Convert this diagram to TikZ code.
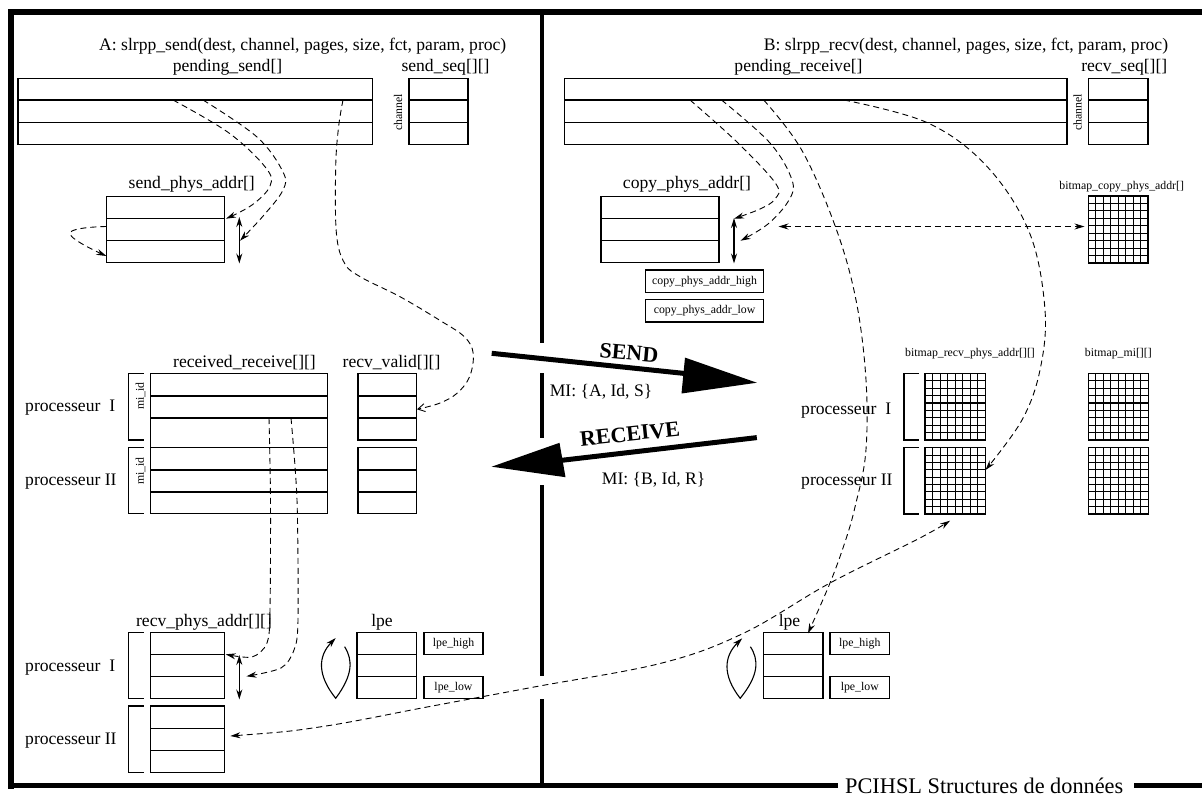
\documentclass[tikz,border=0pt]{standalone}
\usepackage{fontspec}
\setmainfont{Liberation Serif}
\usetikzlibrary{arrows.meta}
\newcommand\fmain{\fontsize{17.6pt}{20pt}\selectfont}
\newcommand\fsmall{\fontsize{11.8pt}{14pt}\selectfont}
\newcommand\fbig{\fontsize{22.3pt}{24pt}\selectfont}
\newcommand\fbold{\fontsize{22pt}{24pt}\selectfont\bfseries}
\newcommand\mktable[6]{%
  \node[tblbox, minimum width={#4-#2}, minimum height={#5-#3}, anchor=north west] (#1) at (#2,#3) {};
  \foreach \r in {#6} {\draw[rowline] (#2,\r) -- (#4,\r);}
}
\newcommand\mkgrid[5]{%
  \node[tblbox, minimum width={#4-#2}, minimum height={#5-#3}, anchor=north west] (#1) at (#2,#3) {};
  \foreach \i in {1,...,7} {\draw[gridline] ({#2+\i*(#4-#2)/8},#3) -- ({#2+\i*(#4-#2)/8},#5);}
  \foreach \j in {1,...,8} {\draw[gridline] (#2,{#3+\j*(#5-#3)/9}) -- (#4,{#3+\j*(#5-#3)/9});}
}
\newcommand\mkbracket[3]{% x, ytop, ybottom
  \draw[rowline] (#1+15,#2) -- (#1,#2) -- (#1,#3) -- (#1+15,#3);
}
\begin{document}
\begin{tikzpicture}[x=1pt,y=-1pt,
  tblbox/.style={draw, line width=1.1pt, inner sep=0pt, outer sep=0pt},
  rowline/.style={line width=1.1pt},
  gridline/.style={line width=1.1pt},
  lbl/.style={inner sep=0pt, font=\fmain, anchor=base},
  slbl/.style={inner sep=0pt, font=\fsmall},
  frame/.style={line width=5.5pt},
  divider/.style={line width=4.5pt},
  conn/.style={dash pattern=on 6pt off 4pt, line width=0.9pt, -{Stealth[length=10pt,width=6pt]}},
  connopen/.style={dash pattern=on 6pt off 4pt, line width=0.9pt, -{Straight Barb[length=7pt,width=8pt]}},
  conndbl/.style={dash pattern=on 6pt off 4pt, line width=0.9pt, {Stealth[length=10pt,width=6pt]}-{Stealth[length=10pt,width=6pt]}},
  dblarr/.style={line width=1.2pt, {Stealth[length=10pt,width=6pt]}-{Stealth[length=10pt,width=6pt]}},
  looparr/.style={line width=1.1pt, -{Stealth[length=10pt,width=6pt]}},
  bigshaft/.style={line width=5pt}]
\useasboundingbox (0,0) rectangle (1202,796);

% ---------- frame ----------
\draw[frame] (8,12) -- (1202,12);
\draw[frame] (11,9.3) -- (11,788.5);
\draw[frame] (8,785.5) -- (838,785.5);
\draw[frame] (1134,785.5) -- (1202,785.5);
\node[inner sep=0pt, font=\fbig, anchor=base west] (foot) at (845,793) {PCIHSL Structures de données};
\draw[divider] (542,12) -- (542,343.3);
\draw[divider] (542,373.3) -- (542,438.3);
\draw[divider] (542,485) -- (542,676);
\draw[divider] (542,699) -- (542,785.5);

% ---------- side A ----------
\node[inner sep=0pt, font=\fmain, anchor=base west] (titA) at (99,50) {A: slrpp\_send(dest, channel, pages, size, fct, param, proc)};
\node[lbl] (lps) at (227.5,71) {pending\_send[]};
\node[lbl] (lss) at (445.5,71) {send\_seq[][]};
\mktable{ps}{18}{78.3}{372.5}{144.3}{100,122.3}
\mktable{ss}{409}{78.3}{468}{144.3}{100,122.3}
\node[slbl, rotate=90] (chA) at (398,112.5) {channel};

\node[lbl] (lspa) at (191.8,188) {send\_phys\_addr[]};
\mktable{spa}{106.4}{196.3}{224.6}{262.7}{218.7,240.7}
\draw[dblarr] (239.3,217) -- (239.3,263.5);

\node[lbl] (lrr) at (244.5,367) {received\_receive[][]};
\node[lbl] (lrv) at (391.5,367) {recv\_valid[][]};
\mktable{rr}{150.7}{373.3}{327.9}{513.3}{396,418,447.7,470,492}
\mktable{rvA}{358}{373.3}{416.4}{440}{396,418}
\mktable{rvB}{358}{447.7}{416.4}{513.3}{470,492}
\mkbracket{128.6}{373.3}{440}
\mkbracket{128.6}{447.7}{513.3}
\node[slbl, rotate=90] (miA) at (140.5,396) {mi\_id};
\node[slbl, rotate=90] (miB) at (140.5,471) {mi\_id};
\node[inner sep=0pt, font=\fmain, anchor=base west] (pIa) at (25,411) {processeur\ \ I};
\node[inner sep=0pt, font=\fmain, anchor=base west] (pIIa) at (25,485.3) {processeur II};

\node[lbl] (lrpa) at (204,626) {recv\_phys\_addr[][]};
\mktable{rpaA}{150.7}{632.3}{224.6}{698.3}{654.3,676.3}
\mktable{rpaB}{150.7}{706}{224.6}{772.3}{728.3,750.3}
\mkbracket{128.6}{632.3}{698.3}
\mkbracket{128.6}{706}{772.3}
\node[inner sep=0pt, font=\fmain, anchor=base west] (pIb) at (25,671.7) {processeur\ \ I};
\node[inner sep=0pt, font=\fmain, anchor=base west] (pIIb) at (25,744) {processeur II};
\draw[dblarr] (239.3,655) -- (239.3,699.5);

\node[lbl] (llpeA) at (382,626) {lpe};
\mktable{lpeA}{357}{632.3}{416.4}{698.3}{654.3,676.3}
\node[tblbox, minimum width=59, minimum height=22, anchor=north west, font=\fsmall] (lpehA) at (424,632.3) {lpe\_high};
\node[tblbox, minimum width=59, minimum height=22, anchor=north west, font=\fsmall] (lpelA) at (424,676.3) {lpe\_low};
\draw[looparr] (344.6,646.7) .. controls (353,660) and (353,675) .. (335.7,698.3)
   .. controls (317,675) and (318,656) .. (335.7,638);

% ---------- side B ----------
\node[inner sep=0pt, font=\fmain, anchor=base west] (titB) at (763.7,50) {B: slrpp\_recv(dest, channel, pages, size, fct, param, proc)};
\node[lbl] (lpr) at (798.5,71) {pending\_receive[]};
\node[lbl] (lrs) at (1124.3,71) {recv\_seq[][]};
\mktable{pr}{564.5}{78.3}{1067}{144.3}{100,122.3}
\mktable{rs}{1088.8}{78.3}{1148}{144.3}{100,122.3}
\node[slbl, rotate=90] (chB) at (1077.6,112.5) {channel};

\node[lbl] (lcpa) at (687,188) {copy\_phys\_addr[]};
\mktable{cpa}{601}{196.3}{719}{262.7}{218.7,240.7}
\draw[dblarr] (734,218) -- (734,263.5);
\node[tblbox, minimum width=118.2, minimum height=22.7, anchor=north west, font=\fsmall] (cph) at (645.5,270) {copy\_phys\_addr\_high};
\node[tblbox, minimum width=118.2, minimum height=22.7, anchor=north west, font=\fsmall] (cpl) at (645.5,299.3) {copy\_phys\_addr\_low};

\node[slbl, anchor=base] (lbc) at (1121.7,189) {bitmap\_copy\_phys\_addr[]};
\mkgrid{bc}{1088.3}{196}{1148}{263}

\node[slbl, anchor=base] (lbr) at (970,356) {bitmap\_recv\_phys\_addr[][]};
\node[slbl, anchor=base] (lbm) at (1118.3,356) {bitmap\_mi[][]};
\mkgrid{brA}{925}{373.3}{985.5}{440}
\mkgrid{brB}{925}{447.7}{985.5}{514}
\mkgrid{bmA}{1088.3}{373.3}{1148.3}{440}
\mkgrid{bmB}{1088.3}{447.7}{1148.3}{514}
\mkbracket{904}{373.3}{440}
\mkbracket{904}{447.7}{514}
\node[inner sep=0pt, font=\fmain, anchor=base west] (pIc) at (801,414.3) {processeur\ \ I};
\node[inner sep=0pt, font=\fmain, anchor=base west] (pIIc) at (801,485.7) {processeur II};

\node[lbl] (llpeB) at (789.5,626) {lpe};
\mktable{lpeB}{763.5}{632.3}{823}{698.3}{654.3,676.3}
\node[tblbox, minimum width=59.6, minimum height=22, anchor=north west, font=\fsmall] (lpehB) at (830,632.3) {lpe\_high};
\node[tblbox, minimum width=59.6, minimum height=22, anchor=north west, font=\fsmall] (lpelB) at (830,676.3) {lpe\_low};
\draw[looparr] (750.4,646.7) .. controls (759,660) and (759,675) .. (740.2,698.3)
   .. controls (722,675) and (724,656) .. (742.2,638.3);

% ---------- SEND / RECEIVE ----------
\coordinate (sendtail) at (491.7,353.3);
\coordinate (sendbase) at (686,373.6);
\draw[bigshaft] (sendtail) -- (sendbase);
\fill (685,357.6) -- (756.8,382.7) -- (681.5,393.5) -- cycle;
\node[inner sep=0pt, font=\fbold, rotate=-5] (tsend) at (629,353) {SEND};
\node[inner sep=0pt, font=\fmain, anchor=base west] (mia) at (549.6,396.7) {MI: \{A, Id, S\}};

\coordinate (rectail) at (756.8,437.6);
\coordinate (recbase) at (560,460.5);
\draw[bigshaft] (rectail) -- (recbase);
\fill (491.7,466.7) -- (559.5,442.8) -- (565.5,477.2) -- cycle;
\node[inner sep=0pt, font=\fbold, rotate=6] (trec) at (630,434) {RECEIVE};
\node[inner sep=0pt, font=\fmain, anchor=base west] (mib) at (601.7,484) {MI: \{B, Id, R\}};

% ---------- dashed connectors ----------
\coordinate (s1a) at (173,100);   \coordinate (s1b) at (226,218.7);
\coordinate (s2a) at (203,100);   \coordinate (s2b) at (240,240.7);
\draw[conn] plot[smooth, tension=0.6] coordinates {(s1a) (229,133) (266,168) (270,186) (252,205) (s1b)};
\draw[conn] plot[smooth, tension=0.6] coordinates {(s2a) (257,137) (283,172) (283,190) (264,215) (s2b)};
\coordinate (lpa) at (106.4,226.5); \coordinate (lpb) at (106.4,256);
\draw[conn] plot[smooth, tension=0.8] coordinates {(lpa) (70,233.5) (lpb)};
\coordinate (la) at (343,100); \coordinate (lb) at (417,409.3);
\draw[connopen] plot[smooth, tension=0.6] coordinates {(la) (338.6,126.7) (335.7,166.7) (336.4,233.3) (344.6,263.3) (360.7,277) (400,296.7) (439.3,320) (464.3,336.7) (473.2,353.3) (469.6,376.7) (457,393.3) (439.3,403.3) (lb)};

\coordinate (ra) at (269,418); \coordinate (rb) at (225.7,654.3);
\draw[conn] plot[smooth, tension=0.5] coordinates {(ra) (270.5,500) (270,610) (267,643) (252,657) (rb)};
\coordinate (qa) at (291,418); \coordinate (qb) at (246.4,676.3);
\draw[conn] plot[smooth, tension=0.5] coordinates {(qa) (297,500) (298,620) (294,650) (281,668) (qb)};

\coordinate (c1a) at (690,100); \coordinate (c1b) at (734,218.7);
\draw[conn] plot[smooth, tension=0.6] coordinates {(c1a) (738,143) (776,184) (775,199) (760,209) (c1b)};
\coordinate (c2a) at (721.5,100); \coordinate (c2b) at (740.5,240.7);
\draw[conn] plot[smooth, tension=0.6] coordinates {(c2a) (770,143) (792,180) (789,200) (768,224) (c2b)};
\coordinate (c3a) at (763.7,100); \coordinate (c3b) at (808,633.3);
\draw[conn] plot[smooth, tension=0.6] coordinates {(c3a) (801.7,150) (835.5,227) (856,300) (866,380) (865.7,453) (855,507) (845,542) (830,583) (c3b)};
\coordinate (c4a) at (844,100); \coordinate (c4b) at (985.5,470);
\draw[conn] plot[smooth, tension=0.6] coordinates {(c4a) (928,123) (987.5,167) (1029.6,233) (1045,310) (1040,370) (1022,420) (c4b)};
\coordinate (ha) at (778.5,226.5); \coordinate (hb) at (1084.5,226.5);
\draw[conndbl] (ha) -- (hb);
\coordinate (c5a) at (230.4,736); \coordinate (c5b) at (950,520.7);
\draw[conndbl] plot[smooth, tension=0.6] coordinates {(c5a) (321.4,726.7) (428.6,706.7) (535.7,686.7) (662,663) (744,633) (830,583) (918,539) (c5b)};

\end{tikzpicture}
\end{document}
